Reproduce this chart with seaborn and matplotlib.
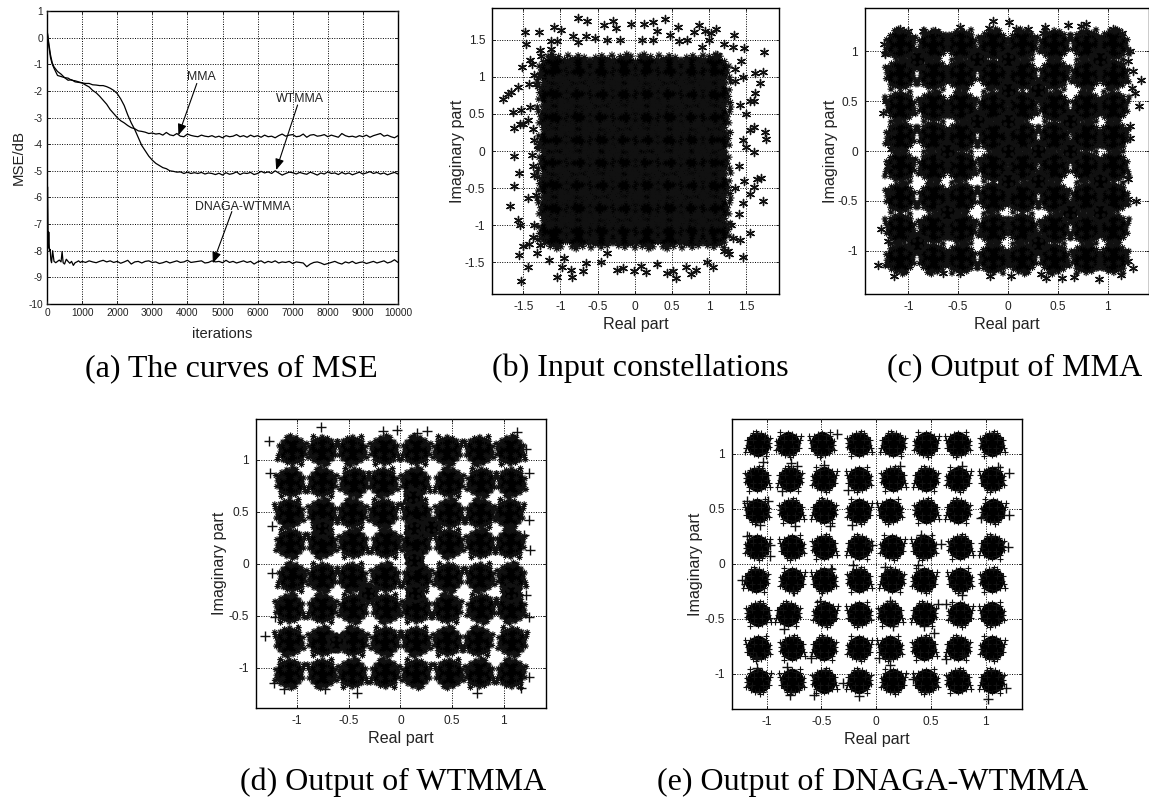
import matplotlib
matplotlib.use("Agg")
import matplotlib.pyplot as plt
from matplotlib.path import Path
import pandas as pd
import seaborn as sns

# ---------- panel (a): MSE curves ----------
iter_head = [0, 50, 100, 150, 200, 300, 400, 500, 600, 700, 800, 900, 1000, 1100, 1200, 1300, 1400, 1500, 1600, 1700, 1800, 1900,
             2000, 2100, 2200, 2300, 2400, 2500, 2600, 2700, 2800, 2900, 3000, 3100, 3200, 3300, 3400, 3500, 3600, 3700, 3800, 3900]
iter_tail = [4000, 4100, 4200, 4300, 4400, 4500, 4600, 4700, 4800, 4900, 5000, 5100, 5200, 5300, 5400, 5500, 5600, 5700, 5800, 5900,
             6000, 6100, 6200, 6300, 6400, 6500, 6600, 6700, 6800, 6900, 7000, 7100, 7200, 7300, 7400, 7500, 7600, 7700, 7800, 7900,
             8000, 8100, 8200, 8300, 8400, 8500, 8600, 8700, 8800, 8900, 9000, 9100, 9200, 9300, 9400, 9500, 9600, 9700, 9800, 9900, 10000]
iterations = iter_head + iter_tail

mma_mse = [0.3, -0.2, -0.65, -0.95, -1.1, -1.27, -1.37, -1.5, -1.52, -1.6, -1.62, -1.66, -1.7, -1.78, -1.85, -1.98, -2.07, -2.2, -2.35, -2.5,
           -2.7, -2.85, -3.0, -3.12, -3.2, -3.3, -3.38, -3.42, -3.5, -3.52, -3.55, -3.6, -3.58, -3.62, -3.6, -3.66, -3.56, -3.65, -3.68, -3.6, -3.7, -3.72,
           -3.62, -3.67, -3.7, -3.72, -3.66, -3.7, -3.72, -3.68, -3.74, -3.7, -3.76, -3.68, -3.72, -3.7, -3.64, -3.72, -3.68, -3.74, -3.66, -3.72,
           -3.68, -3.74, -3.66, -3.72, -3.7, -3.76, -3.68, -3.62, -3.7, -3.66, -3.64, -3.72, -3.7, -3.62, -3.74, -3.66, -3.64, -3.7, -3.68, -3.64,
           -3.72, -3.66, -3.7, -3.74, -3.6, -3.68, -3.72, -3.7, -3.74, -3.68, -3.72, -3.66, -3.74, -3.68, -3.64, -3.6, -3.7, -3.66, -3.72, -3.76, -3.68]
wtmma_mse = [0.3, -0.3, -0.75, -1.0, -1.15, -1.42, -1.46, -1.5, -1.6, -1.58, -1.66, -1.68, -1.7, -1.72, -1.72, -1.77, -1.78, -1.8, -1.8, -1.84,
             -1.9, -1.98, -2.1, -2.3, -2.55, -2.9, -3.2, -3.45, -3.75, -4.05, -4.25, -4.45, -4.6, -4.72, -4.8, -4.88, -4.92, -5.0, -5.02, -5.05, -5.04, -5.1,
             -5.05, -5.1, -5.07, -5.1, -5.06, -5.12, -5.08, -5.1, -5.14, -5.09, -5.16, -5.07, -5.13, -5.1, -5.04, -5.14, -5.08, -5.1, -5.06, -5.14,
             -5.1, -5.02, -5.08, -5.04, -5.1, -5.0, -5.08, -5.16, -5.1, -5.05, -5.07, -5.12, -5.06, -5.1, -5.13, -5.05, -5.1, -5.16, -5.08, -5.12,
             -5.04, -5.1, -5.08, -5.14, -5.06, -5.12, -5.08, -5.15, -5.1, -5.05, -5.12, -5.08, -5.03, -5.1, -5.06, -5.12, -5.08, -5.15, -5.1, -5.06, -5.12]
dnaga_iter = [0, 15, 25, 35, 50, 70, 90, 110, 130, 160, 200, 250, 300, 350, 400, 430, 460, 500, 550, 600, 650, 700, 750, 800, 850, 900, 950]
dnaga_mse_head = [-7.9, -5.6, -6.6, -7.9, -7.3, -8.0, -7.95, -8.35, -8.45, -8.0, -8.4, -8.45, -8.4, -8.35, -8.42, -8.03, -8.45, -8.5, -8.32, -8.4, -8.47, -8.4, -8.55, -8.45, -8.42, -8.38, -8.44]
dnaga_iter_tail = iterations[12:]
dnaga_mse_tail = [-8.4, -8.44, -8.38, -8.42, -8.45, -8.4, -8.36, -8.42, -8.38, -8.44, -8.4, -8.47, -8.42, -8.36, -8.5, -8.42, -8.4, -8.46, -8.4, -8.38, -8.44, -8.42, -8.48, -8.45, -8.4, -8.46, -8.42, -8.38, -8.44, -8.42,
                  -8.36, -8.44, -8.42, -8.4, -8.38, -8.46, -8.44, -8.38, -8.42, -8.4, -8.45, -8.36, -8.44, -8.4, -8.46, -8.42, -8.38, -8.44, -8.4, -8.5, -8.42, -8.38, -8.46, -8.4, -8.44, -8.38, -8.46, -8.42, -8.44, -8.4, -8.48, -8.42,
                  -8.44, -8.46, -8.6, -8.5, -8.44, -8.42, -8.46, -8.52, -8.48, -8.44, -8.4, -8.46, -8.5, -8.42, -8.46, -8.4, -8.48, -8.44, -8.42, -8.48, -8.44, -8.4, -8.46, -8.42, -8.38, -8.46, -8.42, -8.34, -8.44]
dnaga_iter_all = dnaga_iter + dnaga_iter_tail
dnaga_mse = dnaga_mse_head + dnaga_mse_tail

curve_names = ["MMA", "WTMMA", "DNAGA-WTMMA"]
note_text_xy = [(4410, -1.49), (7215, -2.32), (5570, -6.37)]
note_tip_xy = [(3745, -3.66), (6530, -4.97), (4724, -8.47)]
note_tail_xy = [(4268, -1.72), (7139, -2.53), (5266, -6.53)]

# ---------- constellations: cluster centres ----------
b_x = [-1.08, -0.77, -0.46, -0.15, 0.15, 0.46, 0.77, 1.05] * 8
b_y = [1.08] * 8 + [0.77] * 8 + [0.46] * 8 + [0.15] * 8 + [-0.15] * 8 + [-0.46] * 8 + [-0.77] * 8 + [-1.08] * 8
b_fx = [-0.77, -0.64, -0.29, -0.41, -0.25, -0.05, 0.12, 0.25, 0.41, 0.58, 0.87, 0.80, 0.95, 1.09, 1.02, 1.34, -1.47, -1.29, -1.09, -0.99, -0.83, -0.65, -0.54, -0.77, -1.05, -1.13, -1.46, -1.13, -1.28, -1.26, -1.41, -1.38, -1.51, -1.35, -1.27, -1.33, -1.42, -1.57, -1.67, -1.70, -1.77, -1.64, -1.41, -1.53, -1.50, -1.55, -1.62, -1.43, -1.37, -1.35, -1.30, -1.62, -1.38, -1.37, -1.56, -1.36, -1.63, -1.44, -1.33, -1.68, -1.57, -1.54, -1.36, -1.37, -1.42, -1.50, -1.56, -1.32, -1.27, -1.44, -1.53, -1.16, -1.05, -0.98, -0.95, -0.86, -0.84, -0.70, -0.66, -0.45, -0.38, -0.24, -0.16, -0.01, 0.08, 0.15, 0.30, 0.43, 0.52, 0.56, 0.69, 0.76, 0.82, 0.97, 1.05, 1.20, 1.25, 1.27, 1.32, 1.42, 1.46, 1.55, 1.30, 1.40, 1.45, 1.55, 1.60, 1.70, 1.64, 1.72, 1.47, 1.35, 1.40, 1.60, 1.50, 1.45, 1.55, 1.60, 1.75, 1.76, 1.50, 1.42, 1.55, 1.62, 1.60, 1.68, 1.62, 1.72, 1.74, 1.47, 1.43, 1.35, 1.45, 1.35, 1.32, 1.20, 1.10, 1.00, 0.90, 0.70, 0.60, 0.48, 0.30, -0.20, -0.37, 0.10, 0.25]
b_fy = [1.80, 1.75, 1.75, 1.70, 1.66, 1.72, 1.71, 1.74, 1.78, 1.67, 1.70, 1.60, 1.62, 1.65, 1.59, 1.57, 1.60, 1.61, 1.68, 1.63, 1.55, 1.55, 1.53, 1.47, 1.48, 1.49, 1.45, 1.37, 1.36, 1.28, 1.23, 1.17, 1.14, 1.03, 1.03, 0.90, 0.90, 0.87, 0.80, 0.77, 0.70, 0.52, 0.60, 0.56, 0.37, 0.37, 0.31, 0.42, 0.30, 0.15, 0.08, -0.07, -0.05, -0.20, -0.30, -0.33, -0.47, -0.64, -0.60, -0.74, -0.93, -1.00, -1.00, -1.16, -1.25, -1.28, -1.40, -1.37, -1.27, -1.57, -1.75, -1.47, -1.70, -1.57, -1.45, -1.60, -1.70, -1.62, -1.51, -1.50, -1.38, -1.61, -1.58, -1.62, -1.55, -1.63, -1.53, -1.64, -1.62, -1.72, -1.57, -1.66, -1.60, -1.50, -1.56, -1.35, -1.35, -1.39, -1.18, -1.20, -1.43, -1.11, -1.00, -0.85, -0.70, -0.58, -0.48, -0.36, -0.38, -0.67, -0.40, -0.50, -0.20, -0.02, 0.05, 0.15, 0.28, 0.32, 0.26, 0.16, 0.50, 0.62, 0.68, 0.78, 0.68, 0.92, 1.05, 1.06, 1.34, 1.39, 1.22, 1.10, 1.00, 0.95, 1.40, 1.45, 1.30, 1.50, 1.40, 1.50, 1.48, 1.57, 1.62, 1.50, 1.50, 1.50, 1.50]

c_x = [-1.08, -0.75, -0.47, -0.15, 0.14, 0.46, 0.78, 1.05] * 8
c_y = [1.07] * 8 + [0.77] * 8 + [0.45] * 8 + [0.15] * 8 + [-0.15] * 8 + [-0.46] * 8 + [-0.77] * 8 + [-1.07] * 8
c_fx = [-0.15, 0.01, 0.37, 0.60, 0.78, 0.73, -0.19, -1.24, -1.23, -1.22, -1.25, 1.33, 1.24, 1.31, 1.27, 1.22, 1.22, 1.20, 1.28, 1.20, -1.30, -1.14, -1.27, -1.20, -1.18, -1.20, -1.17, -1.17, 0.38, 0.54, 0.66, 0.91, 0.33, 1.13, 1.25, 1.20, -0.65, -0.48, -0.18, 0.03, -0.48, -1.08, -1.00, -0.85, -0.73, 0.20, 0.08, 0.35, 1.05, 1.14, 0.75, 1.22, 1.25, 1.20]
c_fy = [1.30, 1.29, 1.24, 1.26, 1.27, 1.25, 1.23, 1.07, 0.97, 0.50, 0.38, 0.71, 0.63, 0.45, 0.58, 0.25, 0.13, -0.28, -0.50, -0.48, -1.14, -1.25, -0.78, -0.90, -0.42, -0.15, 0.18, 0.02, -1.27, -1.27, -1.26, -1.28, -1.23, -1.24, -1.17, -1.10, -1.22, -1.22, -1.25, -1.25, 1.24, 1.22, 1.20, 1.20, 1.20, 1.22, 1.22, 1.18, 1.22, 1.18, 1.18, 1.00, 0.80, 0.90]
# places between clusters that are filled in the picture
c_bx = [-0.91, -0.31, 0.00, 0.92, 0.00, 0.30, -0.31, 0.00, 0.62, -0.61, 0.00, 0.30, 0.62, 0.00, 0.30, 0.92, -0.61, 0.62, 0.92, -0.91, 0.30]
c_by = [0.92, 0.92, 0.92, 0.92, 0.61, 0.61, 0.30, 0.30, 0.30, 0.00, 0.00, 0.00, 0.00, -0.30, -0.30, -0.30, -0.61, -0.61, -0.61, -0.92, -0.92]

d_x = [-1.05, -0.76, -0.47, -0.16, 0.15, 0.45, 0.76, 1.06,
       -1.07, -0.76, -0.45, -0.17, 0.14, 0.47, 0.78, 1.07,
       -1.08, -0.76, -0.47, -0.17, 0.15, 0.47, 0.77, 1.05,
       -1.07, -0.76, -0.46, -0.14, 0.15, 0.47, 0.77, 1.06,
       -1.05, -0.76, -0.47, -0.15, 0.16, 0.46, 0.77, 1.07,
       -1.08, -0.76, -0.46, -0.14, 0.15, 0.45, 0.78, 1.07,
       -1.08, -0.76, -0.46, -0.15, 0.15, 0.45, 0.75, 1.08,
       -1.08, -0.76, -0.47, -0.15, 0.15, 0.47, 0.76, 1.07]
d_y = [1.10] * 8 + [0.79] * 8 + [0.49] * 8 + [0.20] * 8 + [-0.13] * 8 + [-0.43] * 8 + [-0.74] * 8 + [-1.05] * 8
d_fx = [-1.27, -1.31, 1.25, -0.77, -0.17, -0.03, 0.26, 1.13, 0.16, -0.42, -0.73, 0.74, 1.17, -1.13, -1.22, -1.24, -1.24, -1.26, -1.21, 1.24, 1.24, 1.22, 1.24, 1.22, 1.24, 1.20]
d_fy = [1.18, -0.70, 0.135, 1.32, 1.28, 1.29, 1.28, 1.27, 1.26, -1.25, -1.21, -1.25, -1.20, -1.21, -1.15, -0.09, 0.36, 0.87, -0.51, 0.42, 0.87, 1.11, -0.51, -0.30, -1.09, 0.28]
d_bx = [0.12, 0.13, 0.13, 0.14, 1.07, -0.76, -0.62, 0.30, -0.31]
d_by = [0.64, 0.34, 0.04, -0.28, -0.28, 0.34, -0.75, 0.35, -0.28]

e_x = [-1.08, -0.80, -0.49, -0.16, 0.15, 0.45, 0.75, 1.06,
       -1.09, -0.79, -0.48, -0.16, 0.15, 0.45, 0.75, 1.06,
       -1.09, -0.78, -0.48, -0.16, 0.13, 0.45, 0.75, 1.07,
       -1.09, -0.77, -0.48, -0.16, 0.14, 0.44, 0.76, 1.06,
       -1.10, -0.77, -0.48, -0.16, 0.14, 0.44, 0.76, 1.06,
       -1.08, -0.80, -0.47, -0.16, 0.13, 0.44, 0.76, 1.06,
       -1.08, -0.77, -0.48, -0.16, 0.13, 0.44, 0.745, 1.06,
       -1.08, -0.77, -0.48, -0.16, 0.15, 0.45, 0.75, 1.06]
e_y = [1.09] * 8 + [0.77] * 8 + [0.475] * 8 + [0.148] * 8 + [-0.145] * 8 + [-0.455] * 8 + [-0.767] * 8 + [-1.07] * 8
e_fx = [-1.03, -0.78, -0.72, -0.48, -0.36, 0.215, 0.78, 1.11, 1.215, -0.86, -0.255, -1.18, -0.99, -1.06, -0.74, -0.42, -0.22, 1.215, 0.96, -1.18, -0.97, -0.97, 1.20, -0.04, 0.59, 0.41, 0.08, 0.38, -0.21, -0.41, 0.785, -0.755, -1.22, -0.51, 0.565, 0.64, -0.845, 0.44, 0.155, 0.125, 0.53, 0.125, 0.03, 0.64, 0.805, -0.59, -0.815, -1.09, -1.10, 1.02, 1.185, -0.57, -0.785, -0.16, -0.30, 0.335]
e_fy = [0.92, 0.915, 0.89, 0.90, 1.18, 0.89, 0.89, 0.88, 0.825, 0.66, 0.67, 0.57, 0.57, 0.355, 0.34, 0.34, 0.35, 0.44, 0.415, 0.25, 0.17, 0.07, 0.15, 0.17, 0.18, 0.26, -0.03, -0.01, -0.01, -0.05, -0.28, -0.25, -0.145, -0.34, -0.37, -0.37, -0.59, -0.57, -0.57, -0.34, -0.63, -0.92, -0.86, -0.87, -0.83, -0.86, -0.94, -0.95, -0.85, -1.23, -1.13, -1.19, -1.19, -1.20, -1.085, -1.05]

captions = ["(a) The curves of MSE", "(b) Input constellations", "(c) Output of MMA", "(d) Output of WTMMA", "(e) Output of DNAGA-WTMMA"]
axis_real = "Real part"
axis_imag = "Imaginary part"

# ---------- marker style: one cluster mark is a solid core with a rim of small crosses ----------
RIM = [(0.78, 0.10), (0.70, 0.38), (0.52, 0.62), (0.22, 0.78), (-0.08, 0.72), (-0.34, 0.80), (-0.58, 0.52), (-0.80, 0.28),
       (-0.72, -0.04), (-0.84, -0.30), (-0.56, -0.58), (-0.30, -0.74), (0.02, -0.82), (0.30, -0.66), (0.58, -0.56), (0.82, -0.24),
       (0.40, 0.30), (-0.35, 0.25), (-0.30, -0.30), (0.30, -0.25), (0.88, 0.42), (-0.12, 0.90), (-0.90, -0.55), (0.55, -0.85)]


def rim_marker(flip_x, flip_y, diagonal):
    verts, codes = [], []
    for cx, cy in RIM:
        cx, cy = cx * flip_x, cy * flip_y
        arms = [((-0.2, 0), (0.2, 0)), ((0, -0.2), (0, 0.2))]
        if diagonal:
            arms += [((-0.14, -0.14), (0.14, 0.14)), ((-0.14, 0.14), (0.14, -0.14))]
        for (ax0, ay0), (ax1, ay1) in arms:
            verts += [(cx + ax0, cy + ay0), (cx + ax1, cy + ay1)]
            codes += [Path.MOVETO, Path.LINETO]
    return Path(verts, codes)


W, H = 1149, 798
sns.set_theme(style="ticks")
plt.rcParams["font.family"] = ["Liberation Sans", "DejaVu Sans"]
plt.rcParams.update({"xtick.direction": "in", "ytick.direction": "in", "xtick.color": "#222222", "ytick.color": "#222222",
                     "axes.edgecolor": "black", "axes.linewidth": 1.0, "xtick.major.size": 2.5, "ytick.major.size": 2.5,
                     "xtick.top": True, "ytick.right": True, "axes.unicode_minus": False})
fig = plt.figure(figsize=(W / 100, H / 100), dpi=100, facecolor="white")


def make_axes(x0, x1, y0, y1):
    ax = fig.add_axes([x0 / W, 1 - y1 / H, (x1 - x0) / W, (y1 - y0) / H])
    ax.set_facecolor("white")
    ax.set_axisbelow(False)
    ax.grid(True, color="black", linestyle=(0, (1, 1.5)), linewidth=0.7)
    return ax


def clusters(ax, xs, ys, core_px, rim_px, diagonal):
    frame = pd.DataFrame({"x": xs, "y": ys})
    sns.scatterplot(data=frame, x="x", y="y", ax=ax, color="black", marker="o", s=(core_px * 0.72) ** 2, linewidth=0, zorder=3, legend=False)
    flips = [(1, 1), (-1, 1), (1, -1), (-1, -1)]
    for k, (fx_, fy_) in enumerate(flips):
        part = frame[[(i * 3 + i // 8) % 4 == k for i in range(len(frame))]]
        if len(part):
            sns.scatterplot(data=part, x="x", y="y", ax=ax, color="black", marker=rim_marker(fx_, fy_, diagonal),
                            s=(rim_px * 0.72) ** 2, edgecolor="#111111", linewidth=0.8, zorder=3, legend=False)


def constellation(box, lim, ticks, xs, ys, fx, fy, core_px, rim_px, diagonal, fringe_marker, fringe_s, tick_labels, ypad, bx=None, by=None):
    ax = make_axes(*box)
    clusters(ax, xs, ys, core_px, rim_px, diagonal)
    if bx:
        clusters(ax, bx, by, core_px * 0.55, rim_px * 0.62, diagonal)
    fringe = pd.DataFrame({"x": fx, "y": fy})
    sns.scatterplot(data=fringe, x="x", y="y", ax=ax, color="#111111", marker=fringe_marker, s=fringe_s, linewidth=1.0, zorder=3, legend=False)
    ax.set_xlim(lim[0], lim[1])
    ax.set_ylim(lim[2], lim[3])
    ax.set_xticks(ticks)
    ax.set_yticks(ticks)
    ax.set_xticklabels(tick_labels, fontsize=8.6, color="#222222")
    ax.set_yticklabels(tick_labels, fontsize=8.6, color="#222222")
    ax.tick_params(axis="both", pad=5, width=0.7)
    ax.set_xlabel(axis_real, fontsize=11.6, labelpad=3, color="#222222")
    ax.set_ylabel(axis_imag, fontsize=11.6, labelpad=ypad, color="#222222")
    return ax


# panel (a)
ax = make_axes(47, 398, 11, 304)
sns.lineplot(x=iterations, y=mma_mse, ax=ax, color="black", linewidth=0.9, errorbar=None, sort=False)
sns.lineplot(x=iterations, y=wtmma_mse, ax=ax, color="black", linewidth=0.9, errorbar=None, sort=False)
sns.lineplot(x=dnaga_iter_all, y=dnaga_mse, ax=ax, color="black", linewidth=0.9, errorbar=None, sort=False)
ax.set_xlim(0, 10000)
ax.set_ylim(-10, 1)
ax.set_xticks(range(0, 10001, 1000))
ax.set_yticks(range(-10, 2))
ax.tick_params(axis="both", labelsize=7.3, pad=3, width=0.7, labelcolor="#222222")
ax.set_xlabel("iterations", fontsize=10.6, labelpad=6, color="#222222")
ax.set_ylabel("MSE/dB", fontsize=10.8, labelpad=2, color="#222222")
for name, txt, tip, tail in zip(curve_names, note_text_xy, note_tip_xy, note_tail_xy):
    ax.text(txt[0], txt[1], name, fontsize=8.9, ha="center", va="center", color="#222222", zorder=6)
    ax.annotate("", xy=tip, xytext=tail, zorder=6,
                arrowprops=dict(arrowstyle="-|>,head_length=0.55,head_width=0.22", color="black", lw=0.8, shrinkA=0, shrinkB=0))

# panels (b)-(e)
labels_b = ["-1.5", "-1", "-0.5", "0", "0.5", "1", "1.5"]
labels_c = ["-1", "-0.5", "0", "0.5", "1"]
constellation((492, 779, 8, 294), (-1.92, 1.94, -1.93, 1.93), [-1.5, -1, -0.5, 0, 0.5, 1, 1.5], b_x, b_y, b_fx, b_fy, 30, 42, True, (6, 2, 0), 34, labels_b, 0)
constellation((865, 1149, 8, 294), (-1.435, 1.415, -1.435, 1.435), [-1, -0.5, 0, 0.5, 1], c_x, c_y, c_fx, c_fy, 28, 38, True, (6, 2, 0), 34, labels_c, 0, c_bx, c_by)
constellation((256, 546, 419, 708), (-1.396, 1.409, -1.39, 1.395), [-1, -0.5, 0, 0.5, 1], d_x, d_y, d_fx, d_fy, 27, 36, True, "+", 42, labels_c, 1, d_bx, d_by)
constellation((732, 1022, 419, 709), (-1.315, 1.33, -1.32, 1.315), [-1, -0.5, 0, 0.5, 1], e_x, e_y, e_fx, e_fy, 24, 31, False, "+", 42, labels_c, 1)

caption_xy = [(85, 376), (492, 376), (887, 376), (240, 790), (657, 790)]
for text, (px, py) in zip(captions, caption_xy):
    fig.text(px / W, 1 - py / H, text, fontsize=23, family=["Liberation Serif", "DejaVu Serif"], color="black", ha="left", va="baseline")

fig.savefig("out.png", dpi=100, facecolor="white")
